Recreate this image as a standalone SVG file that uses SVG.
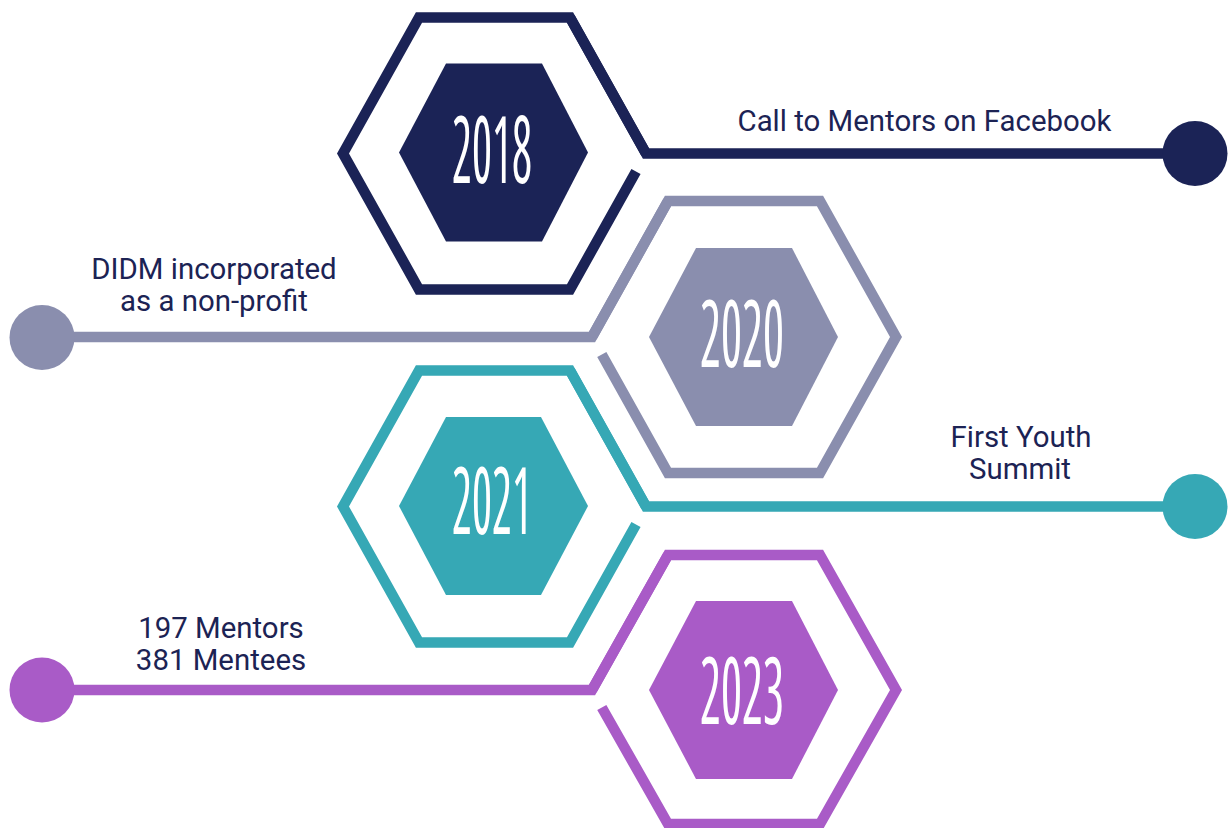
<svg xmlns="http://www.w3.org/2000/svg" width="1228" height="828" viewBox="0 0 1228 828">
<style>
.ring{fill:none;stroke-width:10.5;stroke-linejoin:miter;stroke-linecap:butt}
.line{fill:none;stroke-width:10.5;stroke-linejoin:miter;stroke-linecap:butt}
.year{font-family:"Open Sans","Liberation Sans",sans-serif;font-weight:500;font-stretch:condensed;font-size:94px;fill:#ffffff;text-anchor:middle}
.lbl{font-family:Roboto,"Liberation Sans",sans-serif;font-size:29.4px;fill:#1c2354;text-anchor:middle}
.c1{stroke:#1b2356}.f1{fill:#1b2356}
.c2{stroke:#8a8eae}.f2{fill:#8a8eae}
.c3{stroke:#36a8b5}.f3{fill:#36a8b5}
.c4{stroke:#a95bc7}.f4{fill:#a95bc7}
</style>
<rect width="1228" height="828" fill="#ffffff"/>
<g id="connectors">
  <path class="line c1" d="M570,17.5 L646,153.5 L1195,153.5"/>
  <circle class="f1" cx="1195" cy="153.5" r="32.5"/>
  <path class="line c2" d="M668,201 L592,337 L42,337"/>
  <circle class="f2" cx="42" cy="337.5" r="32.5"/>
  <path class="line c3" d="M570,370.5 L646,506.5 L1195,506.5"/>
  <circle class="f3" cx="1195" cy="506.5" r="32.5"/>
  <path class="line c4" d="M668,555 L592,690 L42,690"/>
  <circle class="f4" cx="42" cy="690" r="32.5"/>
</g>
<g id="node-2018">
  <path class="ring c1" d="M636,171.5 L570,289.5 L419,289.5 L343,153.5 L419,17.5 L570,17.5 L646,153.5"/>
  <polygon class="f1" points="399,152.5 446,63.5 542,63.5 588,152.5 542,241.5 446,241.5"/>
  <text class="year" x="492" y="183" textLength="80" lengthAdjust="spacingAndGlyphs">2018</text>
</g>
<g id="node-2020">
  <path class="ring c2" d="M601.8,354.5 L668,473 L820,473 L896,337 L820,201 L668,201 L592,337"/>
  <polygon class="f2" points="649,337 696,248 792,248 838,337 792,426 696,426"/>
  <text class="year" x="742" y="367" textLength="84" lengthAdjust="spacingAndGlyphs">2020</text>
</g>
<g id="node-2021">
  <path class="ring c3" d="M636,524.5 L570,642.5 L419,642.5 L343,506.5 L419,370.5 L570,370.5 L646,506.5"/>
  <polygon class="f3" points="399,506 446,417 541,417 588,506 541,595 446,595"/>
  <text class="year" x="492" y="534" textLength="80" lengthAdjust="spacingAndGlyphs">2021</text>
</g>
<g id="node-2023">
  <path class="ring c4" d="M601.8,707.5 L668,824 L820,824 L896,690 L820,555 L668,555 L592,690"/>
  <polygon class="f4" points="649,690 696,601 792,601 838,690 792,779 696,779"/>
  <text class="year" x="742" y="724" textLength="84" lengthAdjust="spacingAndGlyphs">2023</text>
</g>
<g id="labels">
  <text class="lbl" x="924.5" y="131">Call to Mentors on Facebook</text>
  <text class="lbl" x="214" y="279">DIDM incorporated</text>
  <text class="lbl" x="214" y="311">as a non-profit</text>
  <text class="lbl" x="1021" y="447">First Youth</text>
  <text class="lbl" x="1020" y="479">Summit</text>
  <text class="lbl" x="221" y="638">197 Mentors</text>
  <text class="lbl" x="221" y="670">381 Mentees</text>
</g>
</svg>
